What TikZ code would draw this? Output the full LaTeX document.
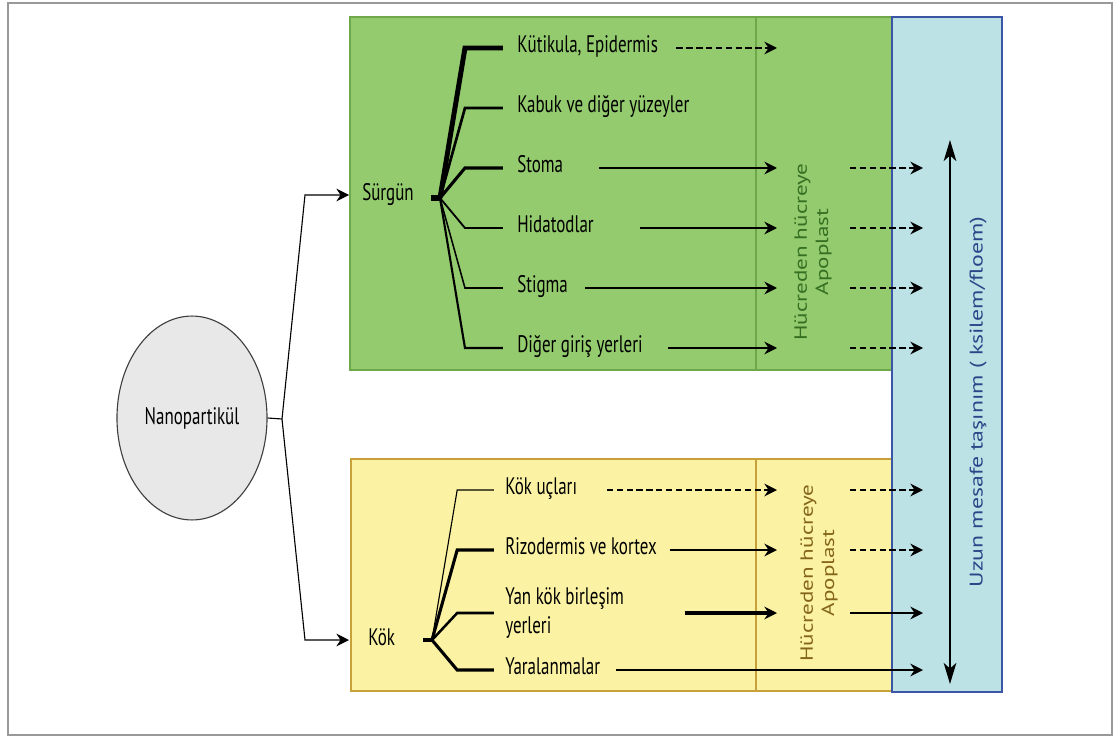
\documentclass[tikz,border=0pt]{standalone}
\usepackage{fontspec}
\setmainfont{PT Sans}[FakeStretch=0.71]
\newfontfamily\rotfont{PT Sans}[FakeStretch=1.3]
\usetikzlibrary{shapes.geometric, arrows.meta}

\definecolor{shootfill}{HTML}{93CB6E}
\definecolor{shootline}{HTML}{6FA849}
\definecolor{rootfill}{HTML}{FBF3A3}
\definecolor{rootline}{HTML}{C9A13A}
\definecolor{tubefill}{HTML}{BCE2E5}
\definecolor{tubeline}{HTML}{3A56A5}
\definecolor{apogreen}{HTML}{356F22}
\definecolor{apogold}{HTML}{846419}
\definecolor{tubetext}{HTML}{2A4688}

\tikzset{
  txt/.style={inner sep=0pt, font=\fontsize{17}{20.5}\selectfont},
  lbl/.style={txt, anchor=west, text height=1.55ex, text depth=.4ex},
  rotlbl/.style={rotate=90, align=center, inner sep=0pt, font=\rotfont\fontsize{12.6}{15}\selectfont},
  branch/.style={shorten >=#1},
  branch/.default=10pt,
  flow/.style={->, line width=1.4pt},
  dflow/.style={->, line width=1.4pt, dash pattern=on 4.5pt off 2.5pt},
}

\begin{document}
\begin{tikzpicture}[>={Stealth[length=9pt,width=9pt,inset=3pt]}, x=0.025cm, y=-0.025cm]

        \useasboundingbox (0,0) rectangle (1119,736);
        \draw[black!40, line width=1pt] (8,3) rectangle (1112,735);

        % areas
        \draw[shootline, fill=shootfill, line width=1.5pt] (350,17) rectangle (892,370);
        \draw[shootline, line width=1pt] (756,17) -- (756,370);
        \draw[rootline, fill=rootfill, line width=2pt] (351,459) rectangle (892,691);
        \draw[rootline, line width=1.5pt] (756,459) -- (756,691);
        \draw[tubeline, fill=tubefill, line width=2pt] (892,17) rectangle (1002,692);

        % particle and the two ways in
        \node[ellipse, draw=black!75, fill=black!9, line width=.8pt, minimum width=106.7pt,
              minimum height=145pt, inner sep=0pt, font=\fontsize{17}{18}\selectfont] (NP) at (192,418) {Nanopartikül};

        \node[lbl] (S) at (362,196) {Sürgün};
        \node[lbl] (K) at (368,641) {Kök};

        \coordinate (split) at (282,419);
        \coordinate (Sin) at (349,195);
        \coordinate (Kin) at (349,640);
        \draw[line width=.8pt] (NP.east) -- (split);
        \draw[->, line width=.8pt] (split) -- (305,195) -- (Sin);
        \draw[->, line width=.8pt] (split) -- (305,640) -- (Kin);

        \coordinate (apoIn) at (777,0);
        \coordinate (apoOut) at (850,0);
        \coordinate (tube) at (923,0);

        % shoot
        \coordinate (shs) at (431,198);
        \coordinate (sh) at (440,198);
        \draw[line width=4pt] (shs) -- (sh);

        \node[lbl] (kut) at (517,48) {Kütikula, Epidermis};
        \node[lbl] (kab) at (517,108) {Kabuk ve diğer yüzeyler};
        \node[lbl] (sto) at (517,168) {Stoma};
        \node[lbl] (hid) at (517,228) {Hidatodlar};
        \node[lbl] (sti) at (517,288) {Stigma};
        \node[lbl] (dig) at (517,348) {Diğer giriş yerleri};

        \draw[branch, line width=3.5pt] (sh) -- ([xshift=-37pt]kut.west) -- (kut.west);
        \draw[branch, line width=1.9pt] (sh) -- ([xshift=-37pt]kab.west) -- (kab.west);
        \draw[branch, line width=2.2pt] (sh) -- ([xshift=-37pt]sto.west) -- (sto.west);
        \draw[branch, line width=1.3pt] (sh) -- ([xshift=-37pt]hid.west) -- (hid.west);
        \draw[branch, line width=1.1pt] (sh) -- ([xshift=-37pt]sti.west) -- (sti.west);
        \draw[branch, line width=1.5pt] (sh) -- ([xshift=-37pt]dig.west) -- (dig.west);

        \draw[dflow] ([xshift=13pt]kut.east) -- (apoIn |- kut.east);
        \draw[flow, line width=1.8pt] ([xshift=25pt]sto.east) -- (apoIn |- sto.east);
        \draw[flow] ([xshift=33pt]hid.east) -- (apoIn |- hid.east);
        \draw[flow] ([xshift=12pt]sti.east) -- (apoIn |- sti.east);
        \draw[flow] ([xshift=18pt]dig.east) -- (apoIn |- dig.east);

        \draw[dflow] (apoOut |- sto.east) -- (tube |- sto.east);
        \draw[dflow] (apoOut |- hid.east) -- (tube |- hid.east);
        \draw[dflow] (apoOut |- sti.east) -- (tube |- sti.east);
        \draw[dflow] (apoOut |- dig.east) -- (tube |- dig.east);

        \node[rotlbl, text=apogreen] (apoS) at (813,252) {Hücreden hücreye\\Apoplast};

        % root
        \coordinate (khs) at (423,640);
        \coordinate (kh) at (432,640);
        \draw[line width=3pt] (khs) -- (kh);

        \node[lbl] (uc) at (505,490) {Kök uçları};
        \node[lbl] (riz) at (505,550) {Rizodermis ve kortex};
        \node[txt, anchor=west, align=left] (yan) at (505,613) {Yan kök birleşim\\yerleri};
        \node[lbl] (yar) at (505,670) {Yaralanmalar};

        \draw[branch=8pt, line width=.8pt] (kh) -- ([xshift=-34pt]uc.west) -- (uc.west);
        \draw[branch=8pt, line width=2.2pt] (kh) -- ([xshift=-34pt]riz.west) -- (riz.west);
        \draw[branch=8pt, line width=1.8pt] (kh) -- ([xshift=-34pt]yan.west) -- (yan.west);
        \draw[branch=8pt, line width=2.2pt] (kh) -- ([xshift=-34pt]yar.west) -- (yar.west);

        \draw[dflow] ([xshift=21pt]uc.east) -- (apoIn |- uc.east);
        \draw[flow] ([xshift=9pt]riz.east) -- (apoIn |- riz.east);
        \draw[flow, line width=2.8pt] ([xshift=43pt]yan.east) -- (apoIn |- yan.east);
        \draw[flow, line width=1.8pt] ([xshift=11pt]yar.east) -- (tube |- yar.east);

        \draw[dflow] (apoOut |- uc.east) -- (tube |- uc.east);
        \draw[dflow] (apoOut |- riz.east) -- (tube |- riz.east);
        \draw[flow] (apoOut |- yan.east) -- (tube |- yan.east);

        \node[rotlbl, text=apogold] (apoK) at (819,573) {Hücreden hücreye\\Apoplast};

        % long distance
        \coordinate (up) at (950,140);
        \coordinate (down) at (950,684);
        \draw[{Stealth[length=15pt,width=9pt,inset=4pt]}-{Stealth[length=15pt,width=9pt,inset=4pt]}, line width=1.2pt] (down) -- (up);
        \node[rotlbl, text=tubetext, font=\rotfont\fontsize{13}{15}\selectfont] (tubeL) at (978,402) {Uzun mesafe taşınım ( ksilem/floem)};

\end{tikzpicture}
\end{document}
